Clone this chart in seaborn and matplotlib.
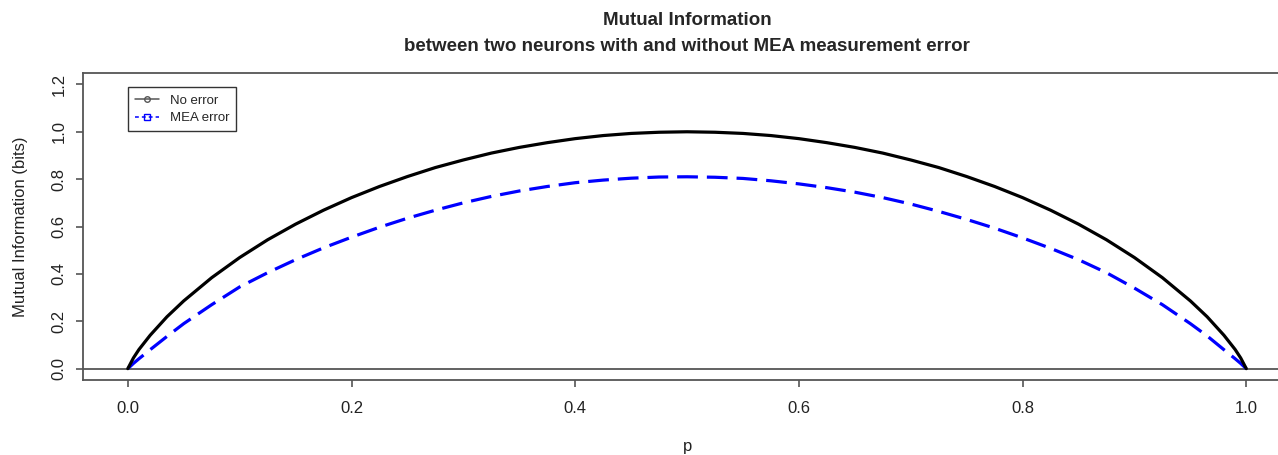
import numpy as np
import pandas as pd
import matplotlib
matplotlib.use("Agg")
import matplotlib.pyplot as plt
import seaborn as sns
from matplotlib.lines import Line2D

# values
p_vals = [0.0, 0.005, 0.01, 0.02, 0.035, 0.05, 0.075, 0.1, 0.125, 0.15, 0.175, 0.2,
          0.225, 0.25, 0.275, 0.3, 0.325, 0.35, 0.375, 0.4, 0.425, 0.45, 0.475, 0.5,
          0.525, 0.55, 0.575, 0.6, 0.625, 0.65, 0.675, 0.7, 0.725, 0.75, 0.775, 0.8,
          0.825, 0.85, 0.875, 0.9, 0.925, 0.95, 0.965, 0.98, 0.99, 0.995, 1.0]
mi_no_error = [0.0, 0.045, 0.081, 0.141, 0.219, 0.286, 0.384, 0.469, 0.544, 0.610, 0.669, 0.722,
               0.769, 0.811, 0.849, 0.881, 0.910, 0.934, 0.954, 0.971, 0.984, 0.993, 0.998, 1.0,
               0.998, 0.993, 0.984, 0.971, 0.954, 0.934, 0.910, 0.881, 0.849, 0.811, 0.769, 0.722,
               0.669, 0.610, 0.544, 0.469, 0.384, 0.286, 0.219, 0.141, 0.081, 0.045, 0.0]
mi_mea_error = [0.0, 0.022, 0.042, 0.080, 0.136, 0.190, 0.270, 0.345, 0.405, 0.460, 0.510, 0.555,
                0.597, 0.635, 0.669, 0.700, 0.727, 0.750, 0.769, 0.785, 0.796, 0.804, 0.809, 0.810,
                0.808, 0.803, 0.793, 0.780, 0.764, 0.745, 0.722, 0.695, 0.664, 0.630, 0.593, 0.552,
                0.508, 0.460, 0.405, 0.340, 0.270, 0.190, 0.138, 0.080, 0.042, 0.022, 0.0]
x_ticks = [0.0, 0.2, 0.4, 0.6, 0.8, 1.0]
y_ticks = [0.0, 0.2, 0.4, 0.6, 0.8, 1.0, 1.2]

df = pd.DataFrame({"p": p_vals, "no_err": mi_no_error, "mea_err": mi_mea_error})

sns.set_style("ticks")
plt.rcParams['font.family'] = ['Liberation Sans', 'DejaVu Sans']

fig = plt.figure(figsize=(12.78, 4.55), dpi=100)
ax = fig.add_axes([0.065, 0.1648, 0.9452, 0.6747])

frame_col = "#555555"
ax.axhline(0, color=frame_col, lw=1.3, zorder=1)
sns.lineplot(data=df, x="p", y="no_err", color="black", lw=2.3, ax=ax, zorder=3)
sns.lineplot(data=df, x="p", y="mea_err", color="#0000ff", lw=2.3, ax=ax, zorder=2)
ax.lines[-1].set_dashes((6.5, 2.8))
ax.lines[-1].set_dash_capstyle("butt")

ax.set_xlim(-0.04, 1.04)
ax.set_ylim(-0.048, 1.248)
ax.set_xticks(x_ticks)
ax.set_xticklabels([f"{v:.1f}" for v in x_ticks])
ax.set_yticks(y_ticks)
ax.set_yticklabels([f"{v:.1f}" for v in y_ticks], rotation=90, va="center")

for s in ax.spines.values():
    s.set_visible(True)
    s.set_color(frame_col)
    s.set_linewidth(1.3)
ax.tick_params(axis="both", colors=frame_col, length=5, width=1.2, labelsize=12,
               labelcolor="#222222")
ax.tick_params(axis="x", pad=10)
ax.tick_params(axis="y", pad=7)

ax.set_xlabel("p", fontsize=12, color="#222222", labelpad=17)
ax.set_ylabel("Mutual Information (bits)", fontsize=12, color="#222222", labelpad=17)

# two-line bold title, centred over the plot box
fig.text(0.5375, 0.956, "Mutual Information", ha="center", va="center",
         fontsize=13.5, fontweight="bold")
fig.text(0.5375, 0.897, "between two neurons with and without MEA measurement error",
         ha="center", va="center", fontsize=13.5, fontweight="bold")

handles = [
    Line2D([0], [0], color="#555555", lw=1.1, marker="o", markersize=4,
           markerfacecolor="none", markeredgecolor="#555555"),
    Line2D([0], [0], color="#0000ff", lw=1.1, ls=(0, (2.5, 2)), marker="s", markersize=4,
           markerfacecolor="none", markeredgecolor="#0000ff"),
]
leg = ax.legend(handles, ["No error", "MEA error"], loc="upper left",
                bbox_to_anchor=(0.0373, 0.954), borderaxespad=0, fontsize=9.5,
                frameon=True, fancybox=False, handlelength=1.8, handletextpad=0.8,
                borderpad=0.55, labelspacing=0.4)
leg.get_frame().set_edgecolor("black")
leg.get_frame().set_linewidth(1.0)

fig.savefig("out.png", dpi=100)
